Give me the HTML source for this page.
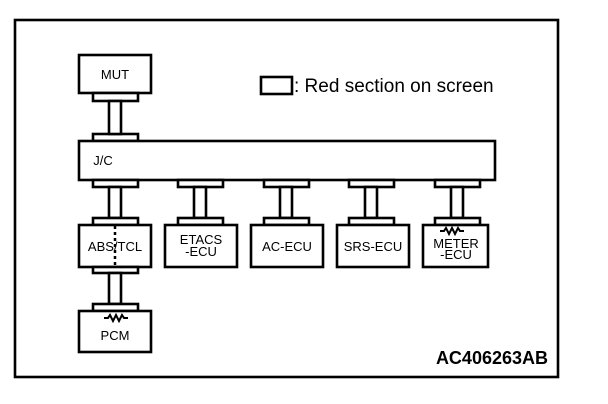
<!DOCTYPE html>
<html><head><style>
body{margin:0;background:#fff}
svg{display:block}
text{font-family:"Liberation Sans",Arial,sans-serif;fill:#000}
</style></head><body>
<svg width="608" height="404" viewBox="0 0 608 404" xmlns="http://www.w3.org/2000/svg">
<g fill="#fff" stroke="#000" stroke-width="2.6">
<rect x="15" y="20" width="543" height="357"/>
<rect x="79" y="55" width="72" height="38"/>
<rect x="93" y="93" width="45" height="8"/>
<rect x="93" y="134" width="45" height="7"/>
<rect x="109" y="101" width="12" height="33"/>
<rect x="79" y="141" width="416" height="39"/>
<g id="c">
<rect x="93" y="180" width="45" height="7"/>
<rect x="109" y="187" width="12" height="31"/>
<rect x="93" y="218" width="45" height="7"/>
</g>
<use href="#c" x="85"/>
<use href="#c" x="171"/>
<use href="#c" x="256"/>
<use href="#c" x="342"/>
<rect x="79" y="225" width="72" height="42"/>
<rect x="165" y="225" width="72" height="42"/>
<rect x="251" y="225" width="72" height="42"/>
<rect x="337" y="225" width="72" height="42"/>
<rect x="423" y="225" width="65" height="42"/>
<rect x="93" y="267" width="45" height="6"/>
<rect x="109" y="273" width="12" height="31"/>
<rect x="93" y="304" width="45" height="7"/>
<rect x="79" y="311" width="72" height="41"/>
<rect x="261" y="77" width="31" height="17"/>
</g>
<line x1="115" y1="226" x2="115" y2="267" stroke="#000" stroke-width="2.5" stroke-dasharray="3,3"/>
<polyline points="104,318 108,318 110,315 113,321 116,315 119,321 122,315 124,318 128,318" fill="none" stroke="#000" stroke-width="2"/>
<polyline points="440,231 444,231 446,228 449,234 452,228 455,234 458,228 460,231 464,231" fill="none" stroke="#000" stroke-width="2"/>
<g font-size="13" text-anchor="middle">
<text x="115" y="79">MUT</text>
<text x="103" y="165">J/C</text>
<text x="115" y="251">ABS/TCL</text>
<text x="201" y="244">ETACS</text>
<text x="201" y="256">-ECU</text>
<text x="287" y="251">AC-ECU</text>
<text x="373" y="251">SRS-ECU</text>
<text x="456" y="248">METER</text>
<text x="456" y="259">-ECU</text>
<text x="115" y="340">PCM</text>
</g>
<text x="294" y="92" font-size="19">: Red section on screen</text>
<text x="548" y="364" font-size="18" font-weight="bold" text-anchor="end">AC406263AB</text>
</svg>
</body></html>
